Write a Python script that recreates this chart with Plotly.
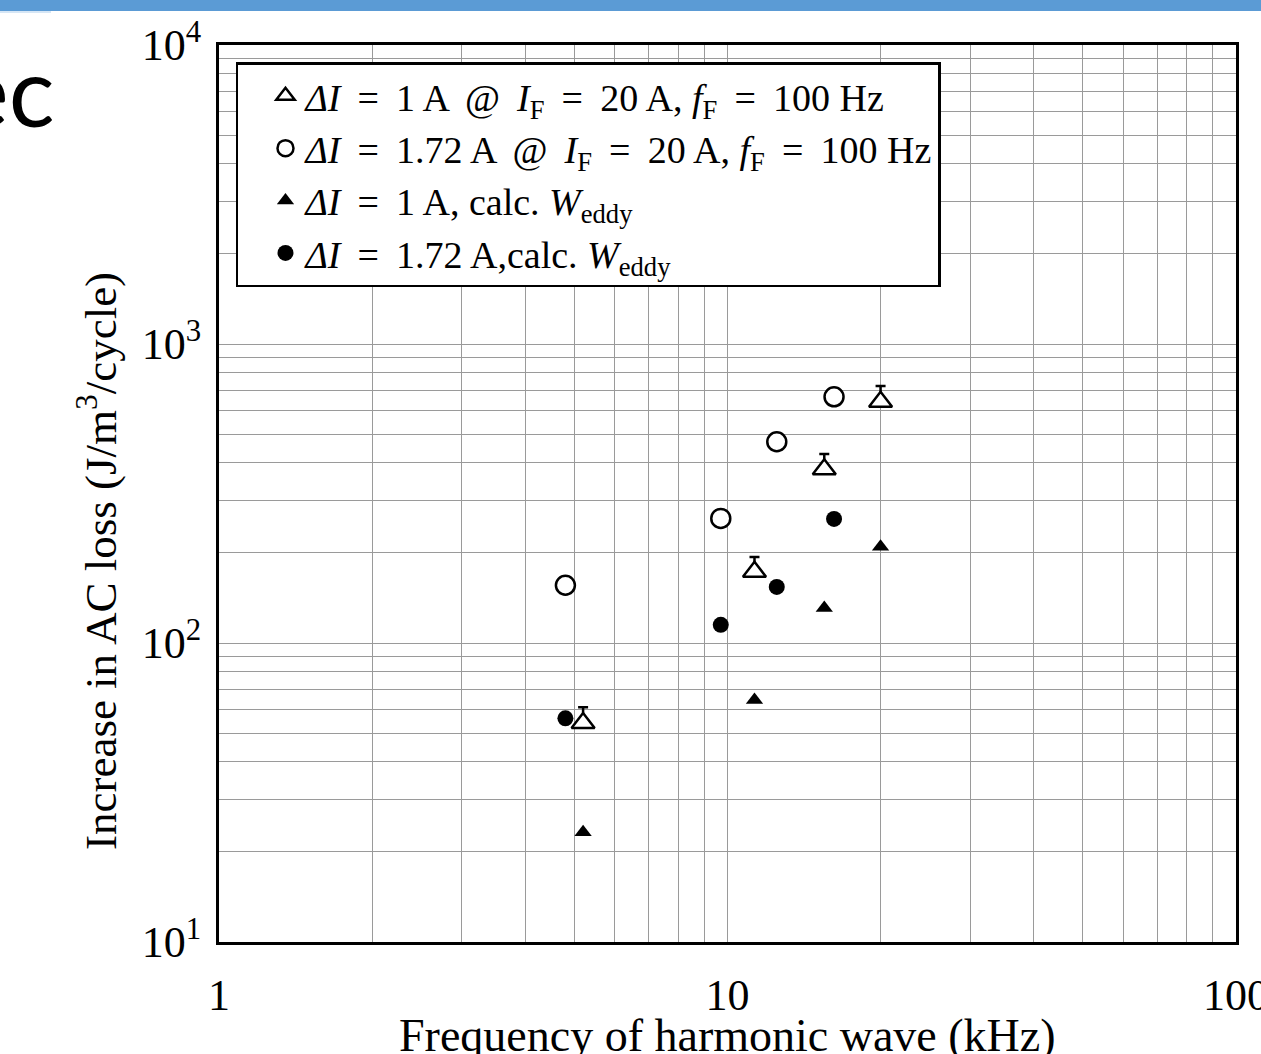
import plotly.graph_objects as go

# ---- data ----
freq_1A = [5.2, 11.3, 15.5, 20.0]          # kHz
freq_172A = [4.8, 9.7, 12.5, 16.2]         # kHz
meas_1A = [54, 173, 381, 641]              # J/m3/cycle, open triangles
err_1A_plus = [7, 21, 48, 82]
meas_172A = [156, 261, 471, 666]           # open circles
calc_1A = [23.3, 64.5, 131, 210]           # filled triangles
calc_172A = [56, 115, 154, 260]            # filled circles

x_tickvals = [1, 10, 100]
x_ticktext = ["1", "10", "100"]
x_minor = [2, 3, 4, 5, 6, 7, 8, 9, 20, 30, 40, 50, 60, 70, 80, 90]
y_tickvals = [10, 100, 1000, 10000]
y_ticktext = ["10<sup>1</sup>", "10<sup>2</sup>", "10<sup>3</sup>", "10<sup>4</sup>"]
y_minor = [20, 30, 40, 50, 60, 70, 80, 90, 200, 300, 400, 500, 600, 700, 800, 900,
           2000, 3000, 4000, 5000, 6000, 7000, 8000, 9000]

TS = "\u2009"  # thin space, widens operator spacing like the equation typesetting
EQ = f"{TS}={TS}"
AT = f"{TS}@{TS}"
names = [
    f"<i>ΔI</i> {EQ} 1 A {AT} <i>I</i><sub>F</sub> {EQ} 20 A, <i>f</i><sub>F</sub> {EQ} 100 Hz",
    f"<i>ΔI</i> {EQ} 1.72 A {AT} <i>I</i><sub>F</sub> {EQ} 20 A, <i>f</i><sub>F</sub> {EQ} 100 Hz",
    f"<i>ΔI</i> {EQ} 1 A, calc. <i>W</i><sub>eddy</sub>",
    f"<i>ΔI</i> {EQ} 1.72 A,calc. <i>W</i><sub>eddy</sub>",
]

SERIF = "Liberation Serif, Times New Roman, serif"
GRID = "#9a9a9a"

fig = go.Figure()
fig.add_trace(go.Scatter(
    x=freq_1A, y=meas_1A, mode="markers", name=names[0],
    error_y=dict(type="data", symmetric=False, array=err_1A_plus,
                 arrayminus=[0] * len(err_1A_plus), color="black",
                 thickness=2.5, width=5),
    marker=dict(symbol="triangle-up", size=20, color="white",
                line=dict(color="black", width=2.5)),
))
fig.add_trace(go.Scatter(
    x=freq_172A, y=meas_172A, mode="markers", name=names[1],
    marker=dict(symbol="circle", size=19, color="white",
                line=dict(color="black", width=2.5)),
))
fig.add_trace(go.Scatter(
    x=freq_1A, y=calc_1A, mode="markers", name=names[2],
    marker=dict(symbol="triangle-up", size=15, color="black",
                line=dict(color="black", width=0)),
))
fig.add_trace(go.Scatter(
    x=freq_172A, y=calc_172A, mode="markers", name=names[3],
    marker=dict(symbol="circle", size=16, color="black",
                line=dict(color="black", width=0)),
))

axis_common = dict(
    type="log", showgrid=True, gridcolor=GRID, gridwidth=1.3,
    showline=True, linecolor="black", linewidth=3, mirror=True,
    ticks="", zeroline=False, ticklabeloverflow="allow", automargin=False,
    tickfont=dict(family=SERIF, size=44, color="black"),
)

fig.update_xaxes(
    **axis_common,
    range=[0, 2], tickmode="array", tickvals=x_tickvals, ticktext=x_ticktext,
    ticklabelstandoff=12,
    minor=dict(tickmode="array", tickvals=x_minor, showgrid=True,
               gridcolor=GRID, gridwidth=1.3, ticks=""),
)
fig.update_yaxes(
    **axis_common,
    range=[1, 4], tickmode="array", tickvals=y_tickvals, ticktext=y_ticktext,
    ticklabelstandoff=6,
    minor=dict(tickmode="array", tickvals=y_minor, showgrid=True,
               gridcolor=GRID, gridwidth=1.3, ticks=""),
)

fig.update_layout(
    width=1261, height=1054,
    margin=dict(l=219, r=25, t=45, b=112, autoexpand=False),
    paper_bgcolor="white", plot_bgcolor="white",
    font=dict(family=SERIF, color="black"),
    showlegend=True,
    legend=dict(
        x=0.0167, y=0.981, xanchor="left", yanchor="top",
        bgcolor="white", bordercolor="black", borderwidth=2.5,
        font=dict(family=SERIF, size=38, color="black"),
        indentation=27, tracegroupgap=0,
    ),
    shapes=[
        dict(type="rect", xref="paper", yref="paper", x0=-0.3, x1=1.1,
             y0=1.0379, y1=1.06, fillcolor="#5B9BD5", line=dict(width=0),
             layer="above"),
        dict(type="rect", xref="paper", yref="paper", x0=-0.3, x1=-0.1652,
             y0=1.0357, y1=1.0379, fillcolor="#D6E6F5", line=dict(width=0),
             layer="above"),
    ],
    annotations=[
        dict(text="Frequency of harmonic wave (kHz)", xref="paper", yref="paper",
             x=0.5, y=-0.1037, xanchor="center", yanchor="middle", showarrow=False,
             font=dict(family=SERIF, size=46, color="black")),
        dict(text="Increase in AC loss (J/m<sup>3</sup>/cycle)", xref="paper", yref="paper",
             x=-0.12, y=0.4247, xanchor="center", yanchor="middle", showarrow=False,
             textangle=-90, font=dict(family=SERIF, size=45, color="black")),
        dict(text="ec", xref="paper", yref="paper", x=-0.1593, y=0.9505,
             xanchor="right", yanchor="middle", showarrow=False,
             font=dict(family="Lato, Open Sans, sans-serif", size=96, color="black")),
    ],
)

fig.write_html("out.html")
